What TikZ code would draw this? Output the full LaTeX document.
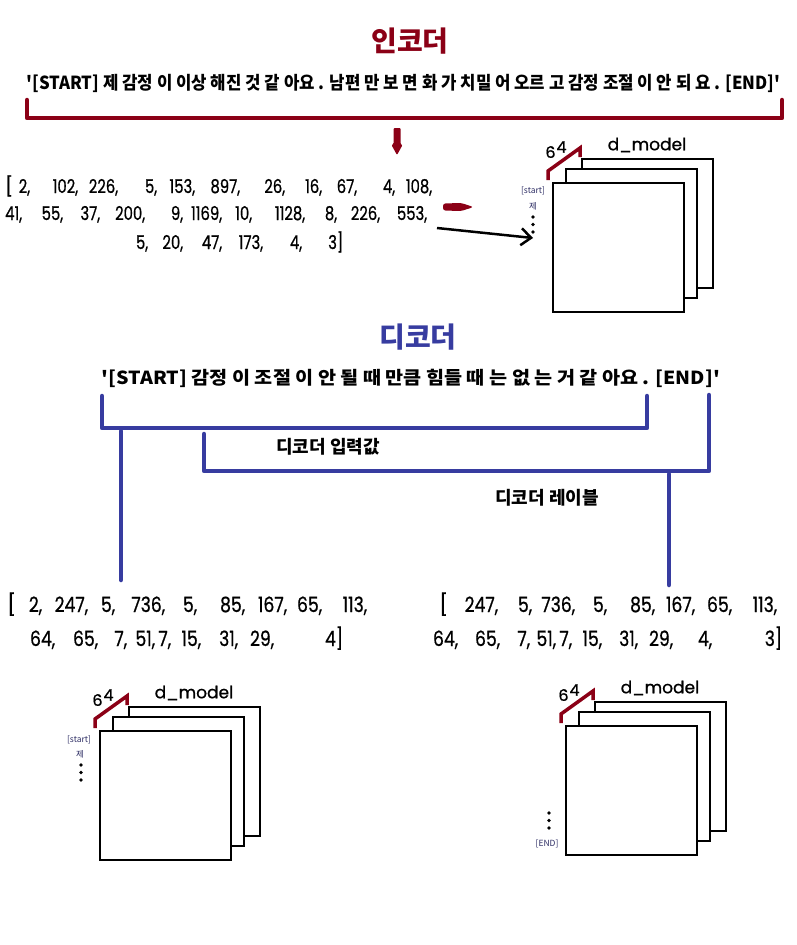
\documentclass[tikz,border=0pt]{standalone}
\usepackage{fontspec}
\usepackage{graphicx}
\usetikzlibrary{arrows.meta}
\newfontfamily\kr[WordSpace=2.2,Ligatures=TeXOff]{Noto Sans CJK KR}
\newfontfamily\krn[Ligatures=TeXOff]{Noto Sans CJK KR}
\newfontfamily\pop[Ligatures=TeXOff,FakeBold=0.8]{Poppins}
\definecolor{encred}{RGB}{139,0,22}
\definecolor{decblue}{RGB}{55,60,160}
\definecolor{tinyblue}{RGB}{45,45,100}
\def\nsc{0.8}
\newcommand{\C}[2]{\makebox[#1pt][r]{\scalebox{\nsc}[1]{#2}}}
\newcommand{\embstack}[3]{%
\begin{scope}[shift={(#2,#3)}]
 \draw[boxst] (30,-23) rectangle ++(131,129);
 \draw[boxst] (14,-13) rectangle ++(131,129);
 \node[boxst,minimum width=131pt,minimum height=129pt,anchor=north west,inner sep=0pt] (#1front) at (0,0) {};
 \draw[redbr] (-4,-2) -- (-4,-11) -- (28,-34) -- (28,-25);
 \node[lbl64] (#1six) at (-1.5,-30) {6};
 \node[lbl64] (#1four) at (9.5,-35) {4};
 \node[lbldm] (#1dm) at (95,-37) {d\_model};
\end{scope}}
\begin{document}
\begin{tikzpicture}[x=1pt,y=-1pt,
  boxst/.style={draw=black,line width=1.5pt,fill=white},
  redbr/.style={draw=encred,line width=3.5pt,line cap=butt,line join=miter},
  encline/.style={draw=encred,line width=4.5pt,line cap=round,line join=round},
  decline/.style={draw=decblue,line width=4.5pt,line cap=round,line join=round},
  title/.style={inner sep=0pt,font=\krn\bfseries\fontsize{28}{30}\selectfont},
  sent/.style={inner sep=0pt,font=\kr\bfseries\fontsize{18}{20}\selectfont},
  sub/.style={inner sep=0pt,font=\krn\bfseries\fontsize{18}{20}\selectfont},
  numE/.style={inner sep=0pt,anchor=base west,font={\def\nsc{0.78}\pop\fontsize{19}{21}\selectfont}},
  numD/.style={inner sep=0pt,anchor=base west,font={\def\nsc{0.82}\pop\fontsize{21}{23}\selectfont}},
  lbl64/.style={inner sep=0pt,font=\pop\fontsize{16}{16}\selectfont},
  lbldm/.style={inner sep=0pt,font=\pop\fontsize{17}{17}\selectfont},
  tiny/.style={inner sep=0pt,text=tinyblue,font=\krn\fontsize{8.5}{8.5}\selectfont},
  dot/.style={fill=black,circle,inner sep=0pt,minimum size=3.8pt}]
\fill[white] (0,0) rectangle (797,945);
\useasboundingbox (0,0) rectangle (797,945);

% ---------- encoder ----------
\node[title,text=encred] (enctitle) at (410,41) {인코더};
\node[sent] (encsent) at (403.5,83) {\resizebox{754pt}{\height}{'[START] 제 감정 이 이상 해진 것 같 아요 . 남편 만 보 면 화 가 치밀 어 오르 고 감정 조절 이 안 되 요 . [END]'}};
\coordinate (ebL) at (27,100);
\coordinate (ebR) at (782,100);
\draw[encline] (ebL) -- (27,118) -- (782,118) -- (ebR);

\fill[encred,rounded corners=1pt] (393.5,128) -- (400.5,128) -- (400.5,144) -- (402.5,145) -- (397,155) -- (391.5,145) -- (393.5,144) -- cycle;

\node[numE] (e1) at (5,193) {\rlap{[}\C{25}{2,}\C{48}{102,}\C{40}{226,}\C{39}{5,}\C{38}{153,}\C{45}{897,}\C{45}{26,}\C{37}{16,}\C{35}{67,}\C{38}{4,}\C{37}{108,}};
\node[numE] (e2) at (5,220) {\C{17}{41,}\C{41}{55,}\C{37}{37,}\C{45}{200,}\C{38}{9,}\C{39}{1169,}\C{30}{10,}\C{53}{1128,}\C{32}{8,}\C{43}{226,}\C{47}{553,}};
\node[numE] (e3) at (139,249) {\C{9}{5,}\C{35}{20,}\C{39}{47,}\C{41}{173,}\C{39}{4,}\C{41}{3]}};

\fill[encred,rounded corners=2.5pt] (443,203.5) -- (461,203) -- (466,204.5) -- (473.5,207) -- (466,209.5) -- (461,211) -- (443,210.5) -- cycle;

\embstack{s1}{552}{182}
\node[tiny] (s1start) at (533,191) {[start]};
\node[tiny] (s1je) at (533,206) {제};
\node[dot] (s1d1) at (533,217) {};
\node[dot] (s1d2) at (533,224.5) {};
\node[dot] (s1d3) at (533,232) {};
\coordinate (arS) at (437,228);
\coordinate (arE) at (533,238);
\draw[line width=2.5pt,-{Straight Barb[length=10pt,width=17pt,line width=2.5pt]}] (arS) -- (arE);

% ---------- decoder ----------
\node[title,text=decblue] (dectitle) at (418,337) {디코더};
\node[sent] (decsent) at (411,378) {\resizebox{618pt}{\height}{'[START] 감정 이 조절 이 안 될 때 만큼 힘들 때 는 없 는 거 같 아요 . [END]'}};

\coordinate (b1L) at (102,396);
\coordinate (b1R) at (647,396);
\draw[decline] (b1L) -- (102,428) -- (647,428) -- (b1R);
\coordinate (v1T) at (121,431);
\coordinate (v1B) at (121,580);
\draw[decline] (v1T) -- (v1B);

\coordinate (b2L) at (204,434);
\coordinate (b2R) at (709,395);
\draw[decline] (b2L) -- (204,471) -- (709,471) -- (b2R);
\coordinate (v2T) at (669,474);
\coordinate (v2B) at (669,585);
\draw[decline] (v2T) -- (v2B);

\node[sub] (decin) at (328,447) {디코더 입력값};
\node[sub] (declab) at (547,498) {디코더 레이블};

\node[numD] (d1) at (7,612) {\rlap{[}\C{35}{2,}\C{46}{247,}\C{27}{5,}\C{50}{736,}\C{32}{5,}\C{48}{85,}\C{42}{167,}\C{35}{65,}\C{45}{113,}};
\node[numD] (d2) at (28,646) {\C{27}{64,}\C{43}{65,}\C{29}{7,}\C{28}{51,}\C{16}{7,}\C{30}{15,}\C{37}{31,}\C{36}{29,}\C{69}{4]}};
\node[numD] (d3) at (439,612) {\rlap{[}\C{59}{247,}\C{34}{5,}\C{43}{736,}\C{32}{5,}\C{48}{85,}\C{40}{167,}\C{37}{65,}\C{45}{113,}};
\node[numD] (d4) at (432,646) {\C{26}{64,}\C{42}{65,}\C{30}{7,}\C{26}{51,}\C{16}{7,}\C{30}{15,}\C{36}{31,}\C{35}{29,}\C{39}{4,}\C{70}{3]}};

\embstack{s2}{99}{730}
\node[tiny] (s2start) at (79,740) {[start]};
\node[tiny] (s2je) at (80,754) {제};
\node[dot] (s2d1) at (81,765) {};
\node[dot] (s2d2) at (81,772.5) {};
\node[dot] (s2d3) at (81,780) {};

\embstack{s3}{565}{725}
\node[dot] (s3d1) at (549,813) {};
\node[dot] (s3d2) at (549,820.5) {};
\node[dot] (s3d3) at (549,828) {};
\node[tiny] (s3end) at (547,844) {[END]};
\end{tikzpicture}
\end{document}
